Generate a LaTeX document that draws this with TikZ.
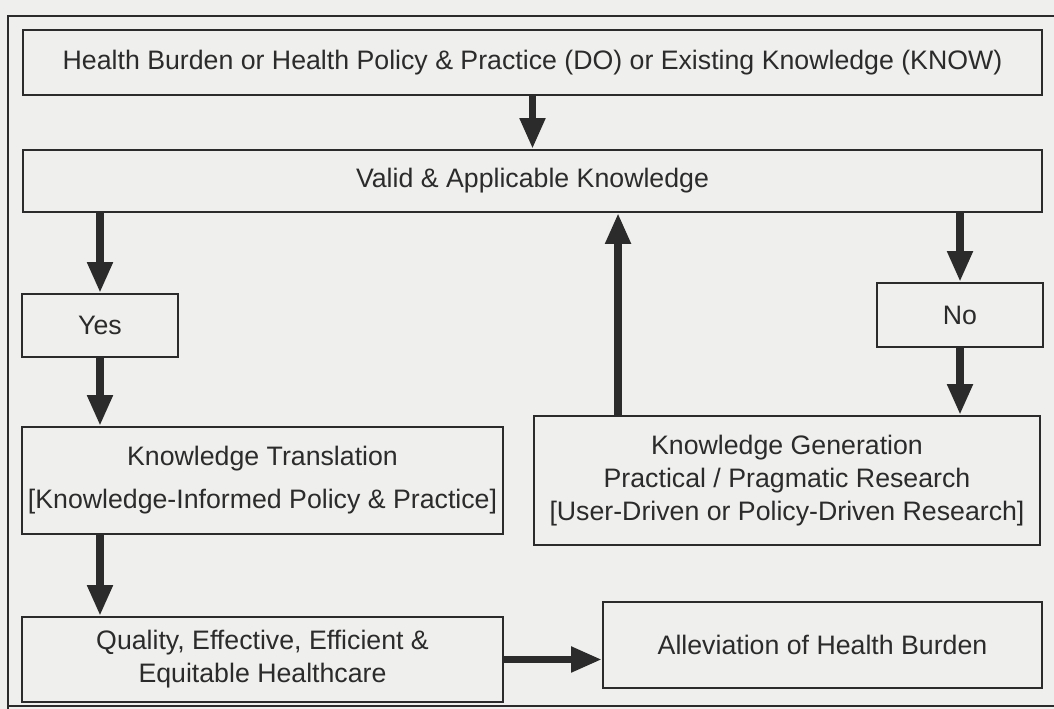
\documentclass[tikz,border=0pt]{standalone}
\usepackage{fontspec}
\setmainfont{Liberation Sans}
\usetikzlibrary{arrows.meta, positioning}
\definecolor{paper}{HTML}{EFEFED}
\definecolor{ink}  {HTML}{2B2B2B}

\begin{document}
\begin{tikzpicture}[
    kbox/.style={draw=ink, line width=1.1pt, fill=paper, text=ink, align=center,
                 inner sep=0pt, font=\fontsize{15.2}{18.8}\selectfont},
    kflow/.style={-{Triangle[length=6.2mm, width=4.8mm]}, line width=1.55mm, ink}
  ]
    \useasboundingbox (0,0) rectangle (21.08,14.18);
    \fill[paper] (0,0) rectangle (21.08,14.18);
    % outer frame runs past the right edge of the page
    \draw[ink, line width=1.1pt] (21.5,13.86) -- (0.16,13.86) -- (0.16,-0.2);
    \draw[ink, line width=1.1pt] (0.16,0.06) -- (21.5,0.06);

    \node[kbox, minimum width=20.38cm, minimum height=1.30cm] (burden) at (10.65,12.93)
      {Health Burden or Health Policy \& Practice (DO) or Existing Knowledge (KNOW)};
    \node[kbox, minimum width=20.38cm, minimum height=1.24cm] (valid) at (10.65,10.56)
      {Valid \& Applicable Knowledge};
    \node[kbox, minimum width=3.12cm, minimum height=1.26cm] (yes) at (2.00,7.67) {Yes};
    \node[kbox, minimum width=3.32cm, minimum height=1.28cm] (no) at (19.20,7.88) {No};
    \node[kbox, minimum width=9.62cm, minimum height=2.14cm] (transl) at (5.25,4.57)
      {Knowledge Translation\\[0.2cm]{}[Knowledge-Informed Policy \& Practice]};
    \node[kbox, minimum width=10.12cm, minimum height=2.58cm] (gener) at (15.74,4.57)
      {Knowledge Generation\\Practical / Pragmatic Research\\{}[User-Driven or Policy-Driven Research]};
    \node[kbox, minimum width=9.62cm, minimum height=1.70cm] (care) at (5.25,0.99)
      {Quality, Effective, Efficient \&\\Equitable Healthcare};
    \node[kbox, minimum width=8.78cm, minimum height=1.72cm] (allev) at (16.45,1.28)
      {Alleviation of Health Burden};

    \coordinate (loop) at ([xshift=1.7cm]gener.north west);

    \draw[kflow] (burden) -- (valid);
    \draw[kflow] (yes |- valid.south) -- (yes.north);
    \draw[kflow] (yes.south) -- (yes.south |- transl.north);
    \draw[kflow] (yes |- transl.south) -- (yes |- care.north);
    \draw[kflow] (care.east) -- (care.east -| allev.west);
    \draw[kflow] (no |- valid.south) -- (no.north);
    \draw[kflow] (no.south) -- (no.south |- gener.north);
    \draw[kflow] (loop) -- (loop |- valid.south);
\end{tikzpicture}
\end{document}
